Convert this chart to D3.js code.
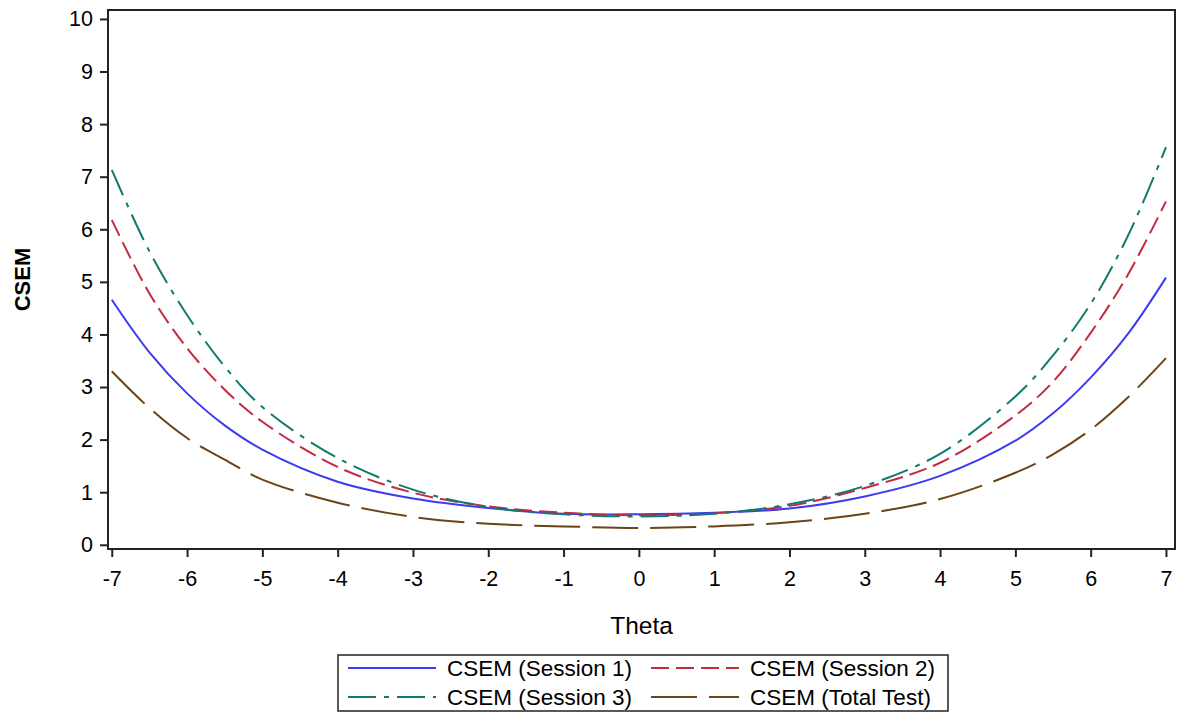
<!DOCTYPE html>
<html>
<head>
<meta charset="utf-8">
<script src="https://cdn.jsdelivr.net/npm/d3@7/dist/d3.min.js"></script>
<style>
  html, body { margin: 0; padding: 0; background: #fff; }
  svg { display: block; font-family: "Liberation Sans", Arial, sans-serif; }
</style>
</head>
<body>
<svg id="chart" width="1177" height="715"></svg>
<script>
// Conditional standard error of measurement across the theta scale
const theta = [-7, -6.5, -6, -5.5, -5, -4, -3, -2, -1, 0, 1, 2, 3, 4, 5, 5.5, 6, 6.5, 7];
const session1 = [4.66, 3.66, 2.88, 2.27, 1.81, 1.20, 0.88, 0.70, 0.59, 0.58, 0.61, 0.69, 0.92, 1.31, 1.98, 2.50, 3.18, 4.02, 5.08];
const session2 = [6.18, 4.78, 3.74, 2.95, 2.34, 1.48, 0.99, 0.73, 0.61, 0.56, 0.60, 0.74, 1.08, 1.56, 2.46, 3.10, 4.03, 5.15, 6.53];
const session3 = [7.13, 5.58, 4.37, 3.39, 2.62, 1.65, 1.05, 0.72, 0.58, 0.54, 0.59, 0.77, 1.12, 1.73, 2.82, 3.60, 4.58, 5.89, 7.56];
const totalTest = [3.30, 2.60, 2.03, 1.62, 1.24, 0.80, 0.53, 0.40, 0.35, 0.32, 0.35, 0.43, 0.59, 0.87, 1.37, 1.72, 2.19, 2.81, 3.55];

const xTicks = [-7, -6, -5, -4, -3, -2, -1, 0, 1, 2, 3, 4, 5, 6, 7];
const yTicks = [0, 1, 2, 3, 4, 5, 6, 7, 8, 9, 10];

const seriesNames = ["CSEM (Session 1)", "CSEM (Session 2)", "CSEM (Session 3)", "CSEM (Total Test)"];
const seriesValues = [session1, session2, session3, totalTest];
const seriesColors = ["#3b3bf2", "#c42a40", "#117a6c", "#6b4519"];
const seriesDash = [null, "18,7", "28,8,5,8", "46,12"];

const svg = d3.select("#chart");

// plot frame
const frame = { left: 108, top: 10, right: 1175, bottom: 549 };

const x = d3.scaleLinear().domain([-7.05, 7.12]).range([frame.left, frame.right]);
const y = d3.scaleLinear().domain([-0.08, 10.17]).range([frame.bottom, frame.top]);

const axisColor = "#222";
const plainNumber = d => String(d);

// x axis
const gx = svg.append("g")
  .attr("transform", `translate(0,${frame.bottom})`)
  .call(d3.axisBottom(x).tickValues(xTicks).tickSize(8).tickPadding(14).tickFormat(plainNumber));
// y axis
const gy = svg.append("g")
  .attr("transform", `translate(${frame.left},0)`)
  .call(d3.axisLeft(y).tickValues(yTicks).tickSize(8).tickPadding(7).tickFormat(plainNumber));

[gx, gy].forEach(g => {
  g.select(".domain").remove();
  g.selectAll(".tick line").attr("stroke", axisColor).attr("stroke-width", 2);
  g.selectAll(".tick text")
    .attr("fill", "#000")
    .style("font-size", "21.5px")
    .style("font-family", "'Liberation Sans', Arial, sans-serif");
});

// clip for curves
svg.append("clipPath").attr("id", "plotClip")
  .append("rect")
  .attr("x", frame.left).attr("y", frame.top)
  .attr("width", frame.right - frame.left).attr("height", frame.bottom - frame.top);

const line = d3.line()
  .x((d, i) => x(theta[i]))
  .y(d => y(d))
  .curve(d3.curveCatmullRom.alpha(0.5));

const curves = svg.append("g").attr("clip-path", "url(#plotClip)");
seriesValues.forEach((vals, k) => {
  curves.append("path")
    .datum(vals)
    .attr("d", line)
    .attr("fill", "none")
    .attr("stroke", seriesColors[k])
    .attr("stroke-width", 2)
    .attr("stroke-dasharray", seriesDash[k]);
});

// frame border
svg.append("rect")
  .attr("x", frame.left).attr("y", frame.top)
  .attr("width", frame.right - frame.left).attr("height", frame.bottom - frame.top)
  .attr("fill", "none").attr("stroke", axisColor).attr("stroke-width", 2);

// axis titles
svg.append("text")
  .attr("x", (frame.left + frame.right) / 2).attr("y", 634)
  .attr("text-anchor", "middle")
  .style("font-size", "24.5px")
  .text("Theta");

svg.append("text")
  .attr("transform", `translate(30,${(frame.top + frame.bottom) / 2}) rotate(-90)`)
  .attr("text-anchor", "middle")
  .style("font-size", "22px")
  .style("font-weight", "bold")
  .text("CSEM");

// legend
const legend = svg.append("g");
legend.append("rect")
  .attr("x", 338).attr("y", 655).attr("width", 610).attr("height", 56)
  .attr("fill", "#fff").attr("stroke", axisColor).attr("stroke-width", 1.5);

const legendCols = [348, 651];
const legendRows = [668, 697];
seriesNames.forEach((name, k) => {
  const cx = legendCols[k % 2];
  const cy = legendRows[Math.floor(k / 2)];
  legend.append("line")
    .attr("x1", cx).attr("x2", cx + 88)
    .attr("y1", cy).attr("y2", cy)
    .attr("stroke", seriesColors[k]).attr("stroke-width", 2)
    .attr("stroke-dasharray", seriesDash[k]);
  legend.append("text")
    .attr("x", cx + 99).attr("y", cy + 8)
    .style("font-size", "22.5px")
    .text(name);
});
</script>
</body>
</html>
